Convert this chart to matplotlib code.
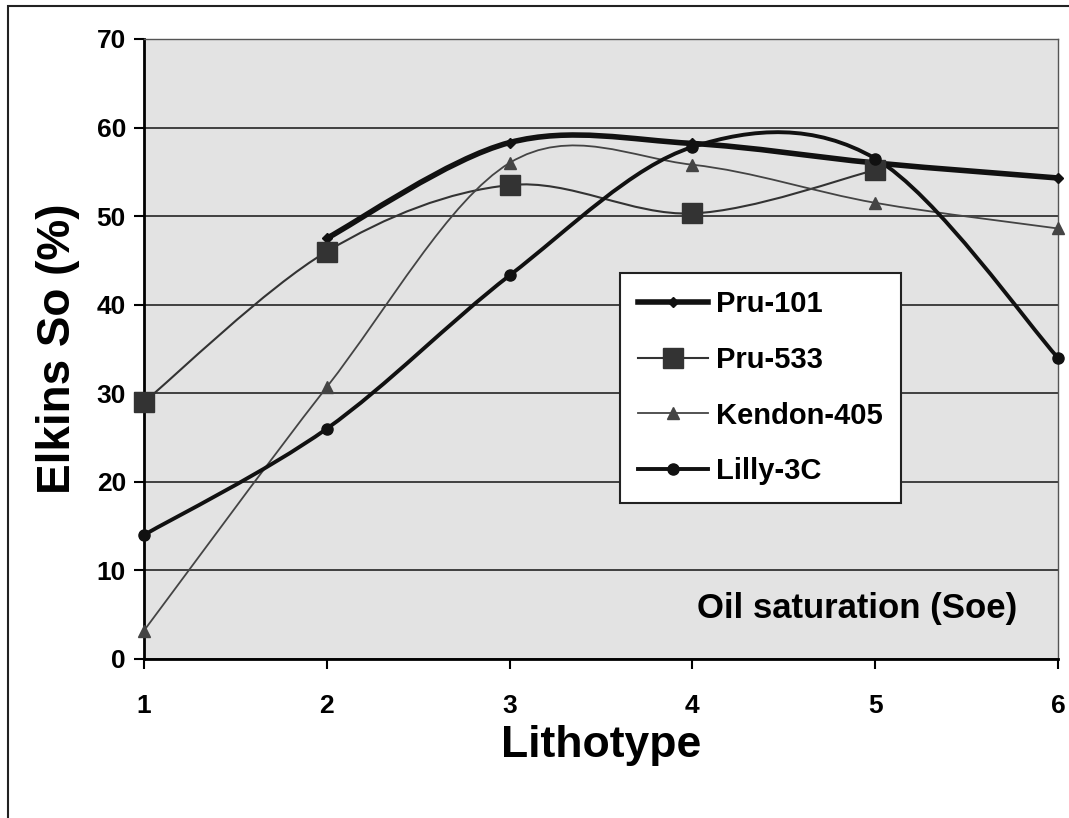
import numpy as np
import matplotlib.pyplot as plt
from matplotlib.path import Path
from matplotlib.patches import PathPatch, Rectangle
from matplotlib.lines import Line2D

plt.rcParams['font.family'] = ['Liberation Sans', 'DejaVu Sans']
plt.rcParams['font.weight'] = 'bold'

lithotype = [1, 2, 3, 4, 5, 6]
pru101 = [None, 47.5, 58.3, 58.2, 56.0, 54.3]
pru533 = [29.0, 46.0, 53.5, 50.3, 55.2, None]
kendon405 = [3.2, 30.7, 56.0, 55.8, 51.5, 48.6]
lilly3c = [14.0, 26.0, 43.3, 57.8, 56.5, 34.0]


def smooth_path(xs, ys):
    # Bezier segments with Catmull-Rom style control points (spreadsheet "smoothed line")
    pts = np.array([(x, y) for x, y in zip(xs, ys) if y is not None], dtype=float)
    n = len(pts)
    verts = [pts[0]]
    codes = [Path.MOVETO]
    for i in range(n - 1):
        p0 = pts[i - 1] if i > 0 else pts[i]
        p1 = pts[i]
        p2 = pts[i + 1]
        p3 = pts[i + 2] if i + 2 < n else pts[i + 1]
        c1 = p1 + (p2 - p0) / 6.0
        c2 = p2 - (p3 - p1) / 6.0
        verts += [c1, c2, p2]
        codes += [Path.CURVE4] * 3
    return Path(verts, codes), pts


series = [
    ('Pru-101', pru101, dict(lw=4.0, color='#111111'), dict(marker='D', ms=5, color='#111111')),
    ('Pru-533', pru533, dict(lw=1.5, color='#333333'), dict(marker='s', ms=14, color='#333333')),
    ('Kendon-405', kendon405, dict(lw=1.3, color='#444444'), dict(marker='^', ms=8, color='#444444')),
    ('Lilly-3C', lilly3c, dict(lw=2.8, color='#111111'), dict(marker='o', ms=8, color='#111111')),
]

fig = plt.figure(figsize=(10.69, 8.18), dpi=100)
ax = fig.add_axes([0.1347, 0.1944, 0.855, 0.758])
ax.set_facecolor('#e3e3e3')

handles = []
for name, vals, lstyle, mstyle in series:
    path, pts = smooth_path(lithotype, vals)
    ax.add_patch(PathPatch(path, facecolor='none', edgecolor=lstyle['color'],
                           lw=lstyle['lw'], zorder=3, clip_on=False))
    ax.plot(pts[:, 0], pts[:, 1], ls='none', marker=mstyle['marker'], ms=mstyle['ms'],
            color=mstyle['color'], zorder=4, clip_on=False)
    handles.append(Line2D([], [], color=lstyle['color'], lw=lstyle['lw'],
                          marker=mstyle['marker'], ms=mstyle['ms'],
                          markerfacecolor=mstyle['color'], markeredgecolor=mstyle['color']))

ax.set_xlim(1, 6)
ax.set_ylim(0, 70)
ax.set_xticks(lithotype)
ax.set_yticks(range(0, 71, 10))
ax.yaxis.grid(True, color='#333333', lw=1.3)
ax.set_axisbelow(True)
for s in ['top', 'right']:
    ax.spines[s].set_color('#555555')
    ax.spines[s].set_linestyle((0, (1, 1)))
    ax.spines[s].set_linewidth(1.0)
for s in ['left', 'bottom']:
    ax.spines[s].set_linewidth(2.0)
ax.tick_params(axis='both', direction='out', length=7, width=1.5, labelsize=19)
ax.tick_params(axis='x', pad=18)
ax.tick_params(axis='y', pad=6)

ax.set_xlabel('Lithotype', fontsize=32, fontweight='bold', labelpad=5)
ax.set_ylabel('Elkins So (%)', fontsize=33, fontweight='bold', labelpad=12)

ax.text(0.955, 0.082, 'Oil saturation (Soe)', transform=ax.transAxes, ha='right', va='center',
        fontsize=25, fontweight='bold')

leg = ax.legend(handles, [s[0] for s in series], loc='upper left',
                bbox_to_anchor=(0.521, 0.623), borderaxespad=0, fontsize=21,
                frameon=True, fancybox=False, edgecolor='#222222', handlelength=2.4,
                handletextpad=0.3, labelspacing=0.95, borderpad=0.6, numpoints=1)
leg.get_frame().set_linewidth(1.5)
leg.get_frame().set_facecolor('white')
leg.get_frame().set_alpha(1)

fig.add_artist(Rectangle((0.0075, -0.05), 1.1, 1.043, transform=fig.transFigure,
                         fill=False, lw=1.5, edgecolor='#222222'))

fig.savefig('out.png', dpi=100)
